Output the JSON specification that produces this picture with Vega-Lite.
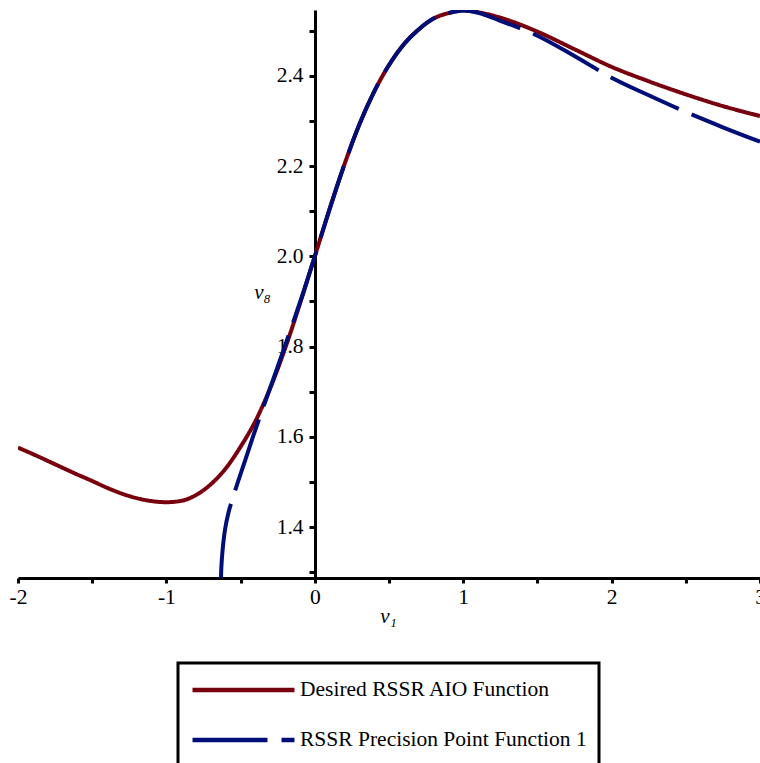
{
  "$schema": "https://vega.github.io/schema/vega-lite/v6.json",
  "width": 742,
  "height": 568,
  "autosize": {"type": "none"},
  "padding": {"left": 18, "top": 10, "right": 0, "bottom": 185},
  "background": "white",
  "config": {
    "view": {"stroke": null},
    "font": "Liberation Serif"
  },
  "data": {
    "values": [
      {"series": "Desired RSSR AIO Function", "x": -2.0, "y": 1.576},
      {"series": "Desired RSSR AIO Function", "x": -1.875, "y": 1.558},
      {"series": "Desired RSSR AIO Function", "x": -1.75, "y": 1.539},
      {"series": "Desired RSSR AIO Function", "x": -1.625, "y": 1.520},
      {"series": "Desired RSSR AIO Function", "x": -1.5, "y": 1.502},
      {"series": "Desired RSSR AIO Function", "x": -1.4, "y": 1.487},
      {"series": "Desired RSSR AIO Function", "x": -1.3, "y": 1.474},
      {"series": "Desired RSSR AIO Function", "x": -1.2, "y": 1.464},
      {"series": "Desired RSSR AIO Function", "x": -1.1, "y": 1.4575},
      {"series": "Desired RSSR AIO Function", "x": -1.0, "y": 1.455},
      {"series": "Desired RSSR AIO Function", "x": -0.9, "y": 1.458},
      {"series": "Desired RSSR AIO Function", "x": -0.8, "y": 1.471},
      {"series": "Desired RSSR AIO Function", "x": -0.7, "y": 1.495},
      {"series": "Desired RSSR AIO Function", "x": -0.6, "y": 1.530},
      {"series": "Desired RSSR AIO Function", "x": -0.5, "y": 1.578},
      {"series": "Desired RSSR AIO Function", "x": -0.4, "y": 1.635},
      {"series": "Desired RSSR AIO Function", "x": -0.3, "y": 1.708},
      {"series": "Desired RSSR AIO Function", "x": -0.2, "y": 1.796},
      {"series": "Desired RSSR AIO Function", "x": -0.1, "y": 1.895},
      {"series": "Desired RSSR AIO Function", "x": 0.0, "y": 2.0},
      {"series": "Desired RSSR AIO Function", "x": 0.1, "y": 2.105},
      {"series": "Desired RSSR AIO Function", "x": 0.2, "y": 2.204},
      {"series": "Desired RSSR AIO Function", "x": 0.3, "y": 2.292},
      {"series": "Desired RSSR AIO Function", "x": 0.4, "y": 2.365},
      {"series": "Desired RSSR AIO Function", "x": 0.5, "y": 2.424},
      {"series": "Desired RSSR AIO Function", "x": 0.6, "y": 2.470},
      {"series": "Desired RSSR AIO Function", "x": 0.7, "y": 2.503},
      {"series": "Desired RSSR AIO Function", "x": 0.8, "y": 2.527},
      {"series": "Desired RSSR AIO Function", "x": 0.9, "y": 2.539},
      {"series": "Desired RSSR AIO Function", "x": 1.0, "y": 2.545},
      {"series": "Desired RSSR AIO Function", "x": 1.1, "y": 2.541},
      {"series": "Desired RSSR AIO Function", "x": 1.25, "y": 2.529},
      {"series": "Desired RSSR AIO Function", "x": 1.5, "y": 2.498},
      {"series": "Desired RSSR AIO Function", "x": 1.75, "y": 2.459},
      {"series": "Desired RSSR AIO Function", "x": 2.0, "y": 2.420},
      {"series": "Desired RSSR AIO Function", "x": 2.25, "y": 2.388},
      {"series": "Desired RSSR AIO Function", "x": 2.5, "y": 2.359},
      {"series": "Desired RSSR AIO Function", "x": 2.75, "y": 2.333},
      {"series": "Desired RSSR AIO Function", "x": 3.0, "y": 2.311},
      {"series": "RSSR Precision Point Function 1", "x": -0.632, "y": 1.287},
      {"series": "RSSR Precision Point Function 1", "x": -0.631, "y": 1.300},
      {"series": "RSSR Precision Point Function 1", "x": -0.628, "y": 1.320},
      {"series": "RSSR Precision Point Function 1", "x": -0.621, "y": 1.350},
      {"series": "RSSR Precision Point Function 1", "x": -0.611, "y": 1.380},
      {"series": "RSSR Precision Point Function 1", "x": -0.602, "y": 1.400},
      {"series": "RSSR Precision Point Function 1", "x": -0.583, "y": 1.430},
      {"series": "RSSR Precision Point Function 1", "x": -0.557, "y": 1.460},
      {"series": "RSSR Precision Point Function 1", "x": -0.518, "y": 1.500},
      {"series": "RSSR Precision Point Function 1", "x": -0.467, "y": 1.550},
      {"series": "RSSR Precision Point Function 1", "x": -0.417, "y": 1.600},
      {"series": "RSSR Precision Point Function 1", "x": -0.364, "y": 1.650},
      {"series": "RSSR Precision Point Function 1", "x": -0.310, "y": 1.700},
      {"series": "RSSR Precision Point Function 1", "x": -0.256, "y": 1.750},
      {"series": "RSSR Precision Point Function 1", "x": -0.203, "y": 1.800},
      {"series": "RSSR Precision Point Function 1", "x": -0.150, "y": 1.850},
      {"series": "RSSR Precision Point Function 1", "x": -0.098, "y": 1.900},
      {"series": "RSSR Precision Point Function 1", "x": 0.0, "y": 2.0},
      {"series": "RSSR Precision Point Function 1", "x": 0.1, "y": 2.105},
      {"series": "RSSR Precision Point Function 1", "x": 0.2, "y": 2.204},
      {"series": "RSSR Precision Point Function 1", "x": 0.3, "y": 2.292},
      {"series": "RSSR Precision Point Function 1", "x": 0.4, "y": 2.365},
      {"series": "RSSR Precision Point Function 1", "x": 0.5, "y": 2.424},
      {"series": "RSSR Precision Point Function 1", "x": 0.6, "y": 2.470},
      {"series": "RSSR Precision Point Function 1", "x": 0.7, "y": 2.503},
      {"series": "RSSR Precision Point Function 1", "x": 0.8, "y": 2.527},
      {"series": "RSSR Precision Point Function 1", "x": 0.9, "y": 2.539},
      {"series": "RSSR Precision Point Function 1", "x": 1.0, "y": 2.545},
      {"series": "RSSR Precision Point Function 1", "x": 1.1, "y": 2.540},
      {"series": "RSSR Precision Point Function 1", "x": 1.25, "y": 2.522},
      {"series": "RSSR Precision Point Function 1", "x": 1.5, "y": 2.489},
      {"series": "RSSR Precision Point Function 1", "x": 1.75, "y": 2.444},
      {"series": "RSSR Precision Point Function 1", "x": 2.0, "y": 2.396},
      {"series": "RSSR Precision Point Function 1", "x": 2.25, "y": 2.357},
      {"series": "RSSR Precision Point Function 1", "x": 2.5, "y": 2.320},
      {"series": "RSSR Precision Point Function 1", "x": 2.75, "y": 2.286},
      {"series": "RSSR Precision Point Function 1", "x": 3.0, "y": 2.254}
    ]
  },
  "mark": {"type": "line", "strokeWidth": 4, "interpolate": "monotone", "clip": true},
  "encoding": {
    "x": {
      "field": "x", "type": "quantitative",
      "scale": {"domain": [-2, 3], "nice": false, "zero": false},
      "axis": {
        "title": "v₁",
        "titleFont": "Liberation Serif", "titleFontStyle": "italic", "titleFontWeight": "normal",
        "titleFontSize": 21, "titleColor": "black",
        "titleX": 370, "titleY": 44, "titleAlign": "center", "titleBaseline": "alphabetic", "titleAngle": 0,
        "values": [-2, -1.5, -1, -0.5, 0, 0.5, 1, 1.5, 2, 2.5, 3],
        "labelExpr": "datum.value % 1 == 0 ? '' + datum.value : ''",
        "labelFont": "Liberation Serif", "labelFontSize": 21.5, "labelColor": "black",
        "labelPadding": 3, "labelFlush": false, "labelOverlap": false,
        "domainColor": "black", "domainWidth": 3,
        "tickColor": "black", "tickWidth": 3, "tickSize": 5,
        "grid": false
      }
    },
    "y": {
      "field": "y", "type": "quantitative",
      "scale": {"domain": [1.287, 2.546], "nice": false, "zero": false},
      "axis": {
        "offset": -297,
        "title": "v₈",
        "titleFont": "Liberation Serif", "titleFontStyle": "italic", "titleFontWeight": "normal",
        "titleFontSize": 21, "titleColor": "black",
        "titleX": -53, "titleY": 288, "titleAlign": "center", "titleBaseline": "alphabetic", "titleAngle": 0,
        "values": [1.3, 1.4, 1.5, 1.6, 1.7, 1.8, 1.9, 2.0, 2.1, 2.2, 2.3, 2.4, 2.5],
        "labelExpr": "round(datum.value * 10) % 2 == 0 ? format(datum.value, '.1f') : ''",
        "labelFont": "Liberation Serif", "labelFontSize": 21.5, "labelColor": "black",
        "labelPadding": 6, "labelFlush": false, "labelOverlap": false,
        "domainColor": "black", "domainWidth": 3,
        "tickColor": "black", "tickWidth": 3, "tickSize": 6,
        "grid": false
      }
    },
    "color": {
      "field": "series", "type": "nominal",
      "scale": {
        "domain": ["Desired RSSR AIO Function", "RSSR Precision Point Function 1"],
        "range": ["#78000E", "#000E78"]
      },
      "legend": {
        "title": null,
        "orient": "none", "legendX": 160, "legendY": 653,
        "direction": "vertical",
        "strokeColor": "black",
        "padding": 12,
        "symbolType": "stroke", "symbolSize": 10404, "symbolStrokeWidth": 4.5,
        "clipHeight": 30,
        "labelFont": "Liberation Serif", "labelFontSize": 21.5, "labelColor": "black",
        "labelOffset": 3, "labelLimit": 400,
        "rowPadding": 20,
        "encode": {"legend": {"update": {"strokeWidth": {"value": 3}}}}
      }
    },
    "strokeDash": {
      "field": "series", "type": "nominal",
      "scale": {
        "domain": ["Desired RSSR AIO Function", "RSSR Precision Point Function 1"],
        "range": [[1, 0], [75, 14]]
      },
      "legend": null
    }
  }
}
